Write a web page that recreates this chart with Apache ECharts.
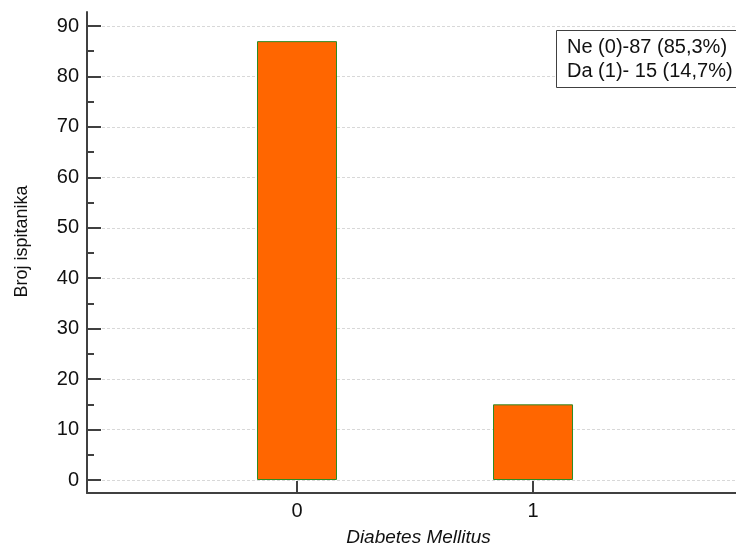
<!DOCTYPE html>
<html>
<head>
<meta charset="utf-8">
<script src="https://cdn.jsdelivr.net/npm/echarts@6/dist/echarts.min.js"></script>
<style>html,body{margin:0;padding:0;background:#fff}#c{width:736px;height:550px}</style>
</head>
<body>
<div id="c"></div>
<script>
const categories = [0, 1];
const counts = [87, 15];
const yTicks = [0, 10, 20, 30, 40, 50, 60, 70, 80, 90];
const yMinorTicks = [5, 15, 25, 35, 45, 55, 65, 75, 85];
const legendLines = ['Ne (0)-87 (85,3%)', 'Da (1)- 15 (14,7%)'];
const xTitle = 'Diabetes Mellitus';
const yTitle = 'Broj ispitanika';

const axisColor = '#404040';
const font = 'Liberation Sans, Arial, sans-serif';

const chart = echarts.init(document.getElementById('c'), null, {renderer: 'canvas'});
chart.setOption({
  animation: false,
  backgroundColor: '#fff',
  title: {
    text: legendLines.join('\n'),
    left: 556, top: 30,
    borderColor: '#404040', borderWidth: 1,
    padding: [5, 12, 5, 11],
    backgroundColor: '#fff',
    textStyle: {fontFamily: font, fontSize: 20, fontWeight: 'normal', color: '#111', lineHeight: 24}
  },
  grid: {left: 87, right: 0, top: 12, bottom: 57, containLabel: false, outerBoundsMode: 'none'},
  xAxis: {
    type: 'value',
    min: -0.8898, max: 1.86,
    name: xTitle, nameLocation: 'middle', nameGap: 35,
    nameTextStyle: {fontFamily: font, fontSize: 19, fontStyle: 'italic', color: '#111', padding: [0, 0, 0, 14]},
    axisLine: {show: true, onZero: false, lineStyle: {color: axisColor, width: 2}},
    axisTick: {show: true, inside: true, length: 12, customValues: categories, lineStyle: {color: axisColor, width: 2}},
    axisLabel: {customValues: categories, margin: 8, fontFamily: font, fontSize: 20, color: '#111'},
    splitLine: {show: false}
  },
  yAxis: [{
    type: 'value',
    min: -2.577, max: 92.775,
    name: yTitle, nameLocation: 'middle', nameGap: 56, nameRotate: 90,
    nameTextStyle: {fontFamily: font, fontSize: 18, color: '#111', padding: [0, 0, 0, 22]},
    axisLine: {show: true, onZero: false, lineStyle: {color: axisColor, width: 2}},
    axisTick: {show: true, inside: true, length: 14, customValues: yTicks, lineStyle: {color: axisColor, width: 2}},
    axisLabel: {customValues: yTicks, margin: 8, fontFamily: font, fontSize: 20, color: '#111'},
    splitLine: {show: true, lineStyle: {color: '#d8d8d8', width: 1, type: [3, 2]}}
  }, {
    type: 'value',
    position: 'left',
    offset: 0,
    min: -2.577, max: 92.775,
    axisLine: {show: true, onZero: false, lineStyle: {color: 'rgba(0,0,0,0)', width: 0}},
    axisTick: {show: true, inside: true, length: 7, customValues: yMinorTicks, lineStyle: {color: axisColor, width: 2}},
    axisLabel: {show: true, customValues: yMinorTicks, color: 'rgba(0,0,0,0)', fontSize: 1},
    splitLine: {show: false}
  }],
  series: [{
    type: 'bar',
    data: categories.map((c, i) => [c, counts[i]]),
    barWidth: 80,
    itemStyle: {color: '#FF6600', borderColor: '#2E8B22', borderWidth: 1}
  }]
});
</script>
</body>
</html>
